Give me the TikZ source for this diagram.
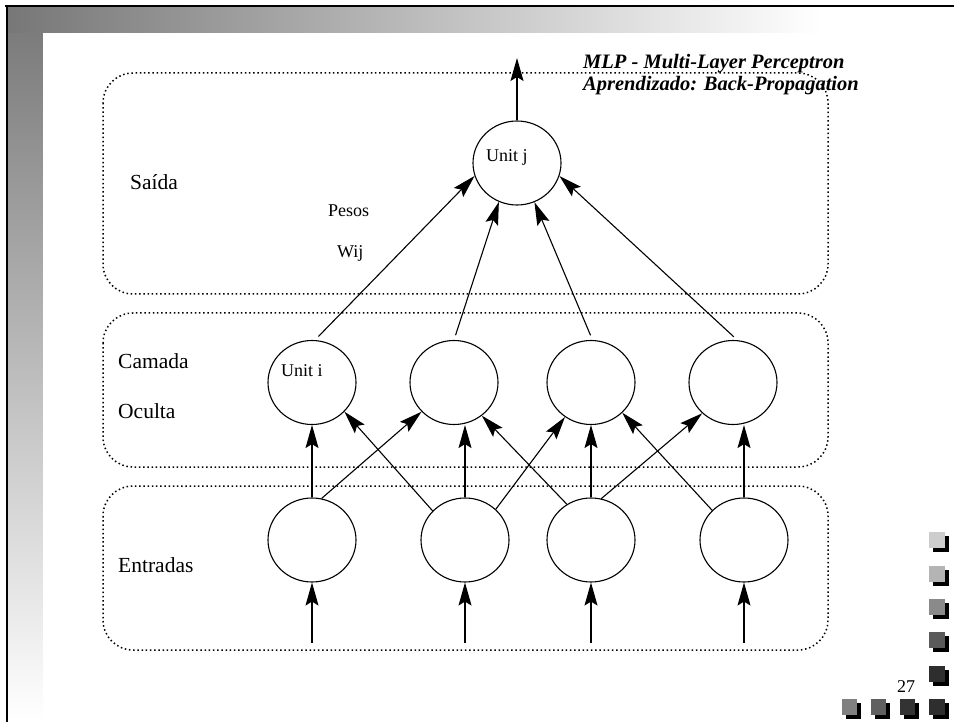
\documentclass[tikz,border=0pt]{standalone}
\usepackage{fontspec}
\setmainfont{Liberation Serif}
\usetikzlibrary{arrows.meta,shapes.geometric}

\definecolor{bandgray}{HTML}{777777}
\definecolor{sqA}{HTML}{CDCDCD}
\definecolor{sqB}{HTML}{B4B4B4}
\definecolor{sqC}{HTML}{8A8A8A}
\definecolor{sqD}{HTML}{5A5A5A}
\definecolor{sqE}{HTML}{2E2E2E}
\definecolor{sqF}{HTML}{808080}
\definecolor{sqG}{HTML}{606060}
\definecolor{sqH}{HTML}{333333}

\tikzset{
  layer/.style={draw, line width=1.5pt, dash pattern=on 1.5pt off 2.7pt, rounded corners=30pt},
  neuron/.style={ellipse, draw, line width=1.1pt, minimum width=88pt, minimum height=84pt, inner sep=0pt},
  link/.style={line width=1.1pt, -{Stealth[length=23pt,width=13pt,inset=4pt]}},
  lbl/.style={anchor=base west, inner sep=0pt, font=\fontsize{21.5}{25}\selectfont},
  small/.style={anchor=base west, inner sep=0pt, font=\fontsize{18}{22}\selectfont},
  title/.style={anchor=base west, inner sep=0pt, font=\bfseries\itshape\fontsize{20.5}{22}\selectfont},
}

\begin{document}
\begin{tikzpicture}[x=1pt,y=-1pt]
\useasboundingbox (0,0) rectangle (954,722);
\fill[white] (0,0) rectangle (954,722);

% slide frame: shaded bands and dark border
\shade[top color=bandgray, bottom color=white] (8,8) rectangle (43,722);
\shade[left color=bandgray, right color=white] (8,8) rectangle (820,33);
\fill[white] (43,33) rectangle (954,722);
\draw[line width=2pt] (5,6) -- (954,6);
\draw[line width=2pt] (7,5) -- (7,722);

% layers
\draw[layer] (103,73) rectangle (828,294);
\draw[layer] (103,313) rectangle (828,467);
\draw[layer] (103,486) rectangle (828,650);

% neurons
\node[neuron] (j) at (517,163) {};
\node[neuron] (h1) at (312,382.5) {};
\node[neuron] (h2) at (454,382.5) {};
\node[neuron] (h3) at (591,382.5) {};
\node[neuron] (h4) at (733,382.5) {};
\node[neuron] (i1) at (312,540) {};
\node[neuron] (i2) at (465,540) {};
\node[neuron] (i3) at (591,540) {};
\node[neuron] (i4) at (744,540) {};

\node[small] (jlab) at (486,162) {Unit j};
\node[small] (ilab) at (281,377) {Unit i};

% external inputs and output
\coordinate (f1) at (312,643);
\coordinate (f2) at (465,643);
\coordinate (f3) at (591,643);
\coordinate (f4) at (744,643);
\coordinate (out) at (517,58);
\draw[link] (f1) -- (i1);
\draw[link] (f2) -- (i2);
\draw[link] (f3) -- (i3);
\draw[link] (f4) -- (i4);
\draw[link] (j) -- (out);

% input -> hidden
\draw[link] (i1) -- (h1);
\draw[link] (i2.north) -- (i2.north |- h2.south);
\draw[link] (i3) -- (h3);
\draw[link] (i4.north) -- (i4.north |- h4.south);
\draw[link] (i1.77) -- (h2.222);
\draw[link] (i2.138) -- (h1.318);
\draw[link] (i2.45) -- (h3.233);
\draw[link] (i3.124) -- (h2.310);
\draw[link] (i3.76) -- (h4.225);
\draw[link] (i4.137) -- (h3.316);

% hidden -> output
\draw[link, shorten <=5pt] (h1.86) -- (j.197);
\draw[link, shorten <=5pt] (h2.90) -- (j.245);
\draw[link, shorten <=5pt] (h3.88) -- (j.294);
\draw[link, shorten <=5pt] (h4.84) -- (j.343);

% labels
\node[lbl] (saida) at (130,190) {Saída};
\node[small] (pesos) at (328,217) {Pesos};
\node[small] (wij) at (337,258) {Wij};
\node[lbl] (camada) at (118,368) {Camada};
\node[lbl] (oculta) at (118,418) {Oculta};
\node[lbl] (entradas) at (118,572) {Entradas};
\node[title] (t1) at (583,69) {MLP - Multi-Layer Perceptron};
\node[title] (t2) at (583,91) {Aprendizado: Back-Propagation};
\node[anchor=base west, inner sep=0pt, font=\fontsize{18}{22}\selectfont] (pg) at (897,692) {27};

% decorative squares
\foreach \yy/\cc in {532/sqA,566/sqB,599/sqC,632/sqD,666/sqE,699/sqE}{
  \fill[black] (933,\yy+4) rectangle ++(16,16);
  \fill[\cc] (929,\yy) rectangle ++(16,16);
}
\foreach \xx/\cc in {842/sqF,871/sqG,900/sqH}{
  \fill[black] (\xx+4,703) rectangle ++(15,16);
  \fill[\cc] (\xx,699) rectangle ++(15,16);
}
\end{tikzpicture}
\end{document}
